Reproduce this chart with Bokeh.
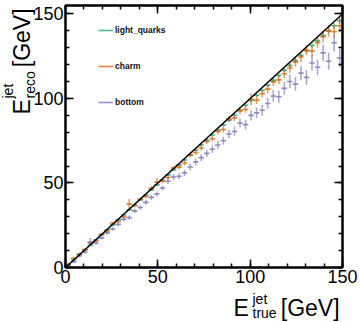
import numpy as np
from bokeh.plotting import figure
from bokeh.models import (Range1d, LinearAxis, SingleIntervalTicker, ColumnDataSource,
                          Legend, LegendItem, Title, CustomJSTickFormatter)
from bokeh.embed import file_html
from bokeh.resources import INLINE

# ---- data -------------------------------------------------------------
e_true = [1.5, 4.5, 7.5, 10.5, 13.5, 16.5, 19.5, 22.5, 25.5, 28.5,
          31.5, 34.5, 37.5, 40.5, 43.5, 46.5, 49.5, 52.5, 55.5, 58.5,
          61.5, 64.5, 67.5, 70.5, 73.5, 76.5, 79.5, 82.5, 85.5, 88.5,
          91.5, 94.5, 97.5, 100.5, 103.5, 106.5, 109.5, 112.5, 115.5, 118.5,
          121.5, 124.5, 127.5, 130.5, 133.5, 136.5, 139.5, 142.5, 145.5, 148.5]
bin_half = 1.5

light_reco = [1.6, 4.6, 7.6, 10.4, 13.3, 16.4, 19.3, 22.3, 25.2, 28.2,
              31.1, 34.1, 37.0, 40.0, 42.9, 45.9, 48.9, 51.8, 54.8, 57.7,
              60.7, 63.6, 66.6, 69.5, 72.5, 75.3, 78.4, 81.3, 84.2, 87.2,
              90.1, 93.0, 96.0, 98.9, 101.9, 104.8, 107.8, 110.7, 113.6, 116.6,
              119.5, 122.4, 125.4, 128.3, 131.3, 134.1, 137.2, 140.1, 143.0, 146.0]
light_err = [0.8, 0.6, 0.6, 0.5, 0.5, 0.5, 0.5, 0.5, 0.5, 0.5,
             0.5, 0.5, 0.6, 0.6, 0.6, 0.6, 0.6, 0.6, 0.7, 0.7,
             0.7, 0.7, 0.7, 0.8, 0.8, 0.8, 0.8, 0.8, 0.9, 0.9,
             0.9, 0.9, 1.0, 1.0, 1.0, 1.0, 1.1, 1.1, 1.1, 1.2,
             1.2, 1.2, 1.3, 1.3, 1.3, 1.4, 1.4, 1.5, 1.5, 1.6]

charm_reco = [1.8, 5.5, 8.0, 10.6, 14.5, 15.8, 19.6, 21.5, 26.3, 27.2,
              30.0, 37.5, 36.5, 40.4, 42.0, 46.8, 50.5, 51.0, 53.2, 58.8,
              59.4, 61.8, 66.5, 68.0, 70.7, 74.5, 76.2, 80.5, 81.6, 87.9,
              88.5, 92.6, 93.5, 99.5, 99.0, 102.8, 105.5, 109.8, 111.0, 114.6,
              118.0, 121.5, 124.5, 128.5, 128.0, 133.0, 136.5, 140.0, 139.5, 143.0]
charm_err = [1.0, 0.8, 0.8, 0.8, 0.9, 0.8, 0.8, 0.9, 0.9, 0.9,
             1.0, 3.0, 1.0, 1.0, 1.1, 1.2, 2.5, 1.2, 1.2, 1.3,
             1.3, 1.4, 1.4, 1.5, 1.5, 1.6, 1.6, 1.7, 1.7, 1.8,
             1.9, 2.0, 2.0, 3.5, 2.2, 2.2, 2.4, 2.4, 2.5, 2.6,
             2.8, 2.8, 3.0, 3.0, 3.2, 3.2, 3.4, 3.5, 3.6, 3.8]

bottom_reco = [1.0, 3.5, 6.8, 9.0, 15.0, 14.5, 17.5, 20.5, 22.8, 25.5,
               28.5, 29.5, 33.5, 35.5, 38.5, 41.5, 43.5, 47.0, 51.0, 53.5,
               54.0, 56.0, 59.5, 62.5, 65.0, 67.5, 70.0, 72.5, 75.0, 79.0,
               80.5, 85.5, 84.5, 90.0, 91.5, 93.0, 97.0, 101.5, 101.0, 106.0,
               110.0, 108.5, 115.0, 112.5, 121.0, 118.5, 127.0, 122.0, 133.0, 124.0]
bottom_err = [0.8, 0.8, 0.8, 0.9, 2.5, 1.0, 1.0, 1.0, 1.1, 1.1,
              1.2, 1.2, 1.3, 1.3, 1.4, 1.4, 1.5, 1.5, 1.6, 1.7,
              1.7, 1.8, 1.9, 2.0, 2.0, 2.1, 2.2, 2.3, 2.4, 2.5,
              2.6, 2.7, 2.8, 3.0, 3.0, 3.2, 3.3, 3.5, 3.6, 3.8,
              4.0, 4.0, 4.2, 4.4, 4.5, 4.6, 4.8, 5.0, 5.2, 5.5]

series_names = ["light_quarks", "charm", "bottom"]
series_colors = ["#1b9e77", "#d95f02", "#7570b3"]
diag_x = [0, 150]
diag_y = [0, 150]

NBSP = "\u00a0"
x_title_main = "E" + NBSP * 5 + "[GeV]"
x_title_sup = "jet"
x_title_sub = "true"
y_title_main = "E" + NBSP * 5 + "[GeV]"
y_title_sup = "jet"
y_title_sub = "reco"

# ---- figure -----------------------------------------------------------
p = figure(width=360, height=322, output_backend="svg", toolbar_location=None,
           x_range=Range1d(0, 150), y_range=Range1d(0, 155),
           min_border_left=65, min_border_right=18, min_border_top=5,
           min_border_bottom=55)
p.grid.visible = False
p.outline_line_color = "black"
p.outline_line_width = 2
p.background_fill_color = "white"
p.border_fill_color = "white"

FONT = "Liberation Sans"


def style_axis(ax, labels=True):
    ax.ticker = SingleIntervalTicker(interval=50, num_minor_ticks=5)
    ax.axis_line_width = 2
    ax.axis_line_color = "black"
    ax.major_tick_in = 8
    ax.major_tick_out = 0
    ax.minor_tick_in = 4
    ax.minor_tick_out = 0
    ax.major_tick_line_width = 1.5
    ax.minor_tick_line_width = 1.5
    ax.major_tick_line_color = "black"
    ax.minor_tick_line_color = "black"
    ax.major_label_text_font = FONT
    ax.major_label_text_color = "black"
    ax.major_label_text_font_size = "18px"
    if labels:
        ax.major_label_standoff = 2
    else:
        ax.formatter = CustomJSTickFormatter(code="return ''")
        ax.major_label_standoff = 0


style_axis(p.xaxis[0])
style_axis(p.yaxis[0])
top_ax = LinearAxis()
right_ax = LinearAxis()
style_axis(top_ax, labels=False)
style_axis(right_ax, labels=False)
p.add_layout(top_ax, "above")
p.add_layout(right_ax, "right")

legend_items = []
for name, ys, es, col in zip(series_names,
                             [light_reco, charm_reco, bottom_reco],
                             [light_err, charm_err, bottom_err],
                             series_colors):
    xs = np.array(e_true)
    yv = np.array(ys)
    ev = np.array(es)
    src = ColumnDataSource(dict(x=xs, y=yv, x0=xs - bin_half, x1=xs + bin_half,
                                y0=yv - ev, y1=yv + ev))
    hr = p.segment(x0="x0", y0="y", x1="x1", y1="y", source=src,
                   line_color=col, line_width=1.6, line_alpha=0.75)
    p.segment(x0="x", y0="y0", x1="x", y1="y1", source=src,
              line_color=col, line_width=1.6, line_alpha=0.6)
    legend_items.append(LegendItem(label=name, renderers=[hr]))

p.line(diag_x, diag_y, line_color="black", line_width=1.5)

leg = Legend(items=legend_items, location=(33, 155), orientation="vertical",
             glyph_width=15, glyph_height=20, label_height=20, spacing=16,
             padding=0, margin=0, label_standoff=2,
             label_text_font=FONT, label_text_font_style="bold",
             label_text_font_size="8.5px", label_text_color="#111111",
             border_line_alpha=0, background_fill_alpha=0)
p.add_layout(leg)

# invisible spacer below the x axis (pushes the x title down a little)
spacer = LinearAxis(ticker=SingleIntervalTicker(interval=50),
                    formatter=CustomJSTickFormatter(code="return ''"),
                    major_tick_out=4, major_tick_in=0, minor_tick_out=0, minor_tick_in=0,
                    major_tick_line_alpha=0, minor_tick_line_alpha=0,
                    axis_line_alpha=0, major_label_standoff=0,
                    major_label_text_font_size="18px")
p.add_layout(spacer, "below")


# ---- axis titles (ROOT style with sub/superscripts), stacked side titles --
def side_title(text, size, offset, standoff, side):
    t = Title(text=text, align="left", vertical_align="middle", offset=offset,
              standoff=standoff, text_font=FONT, text_font_size=size,
              text_font_style="normal", text_color="black")
    p.add_layout(t, side)


# below: stacked outward from the frame
side_title(x_title_sup, "14px", 187, 0, "below")
side_title(x_title_main, "23px", 168, -27, "below")
side_title(x_title_sub, "14px", 187, -10, "below")
# left: stacked outward from the frame
side_title(y_title_sub, "14px", 169, -17, "left")
side_title(y_title_main, "23px", 153, -12, "left")
side_title(y_title_sup, "14px", 169, -7, "left")

open("out.html", "w").write(file_html(p, INLINE))
